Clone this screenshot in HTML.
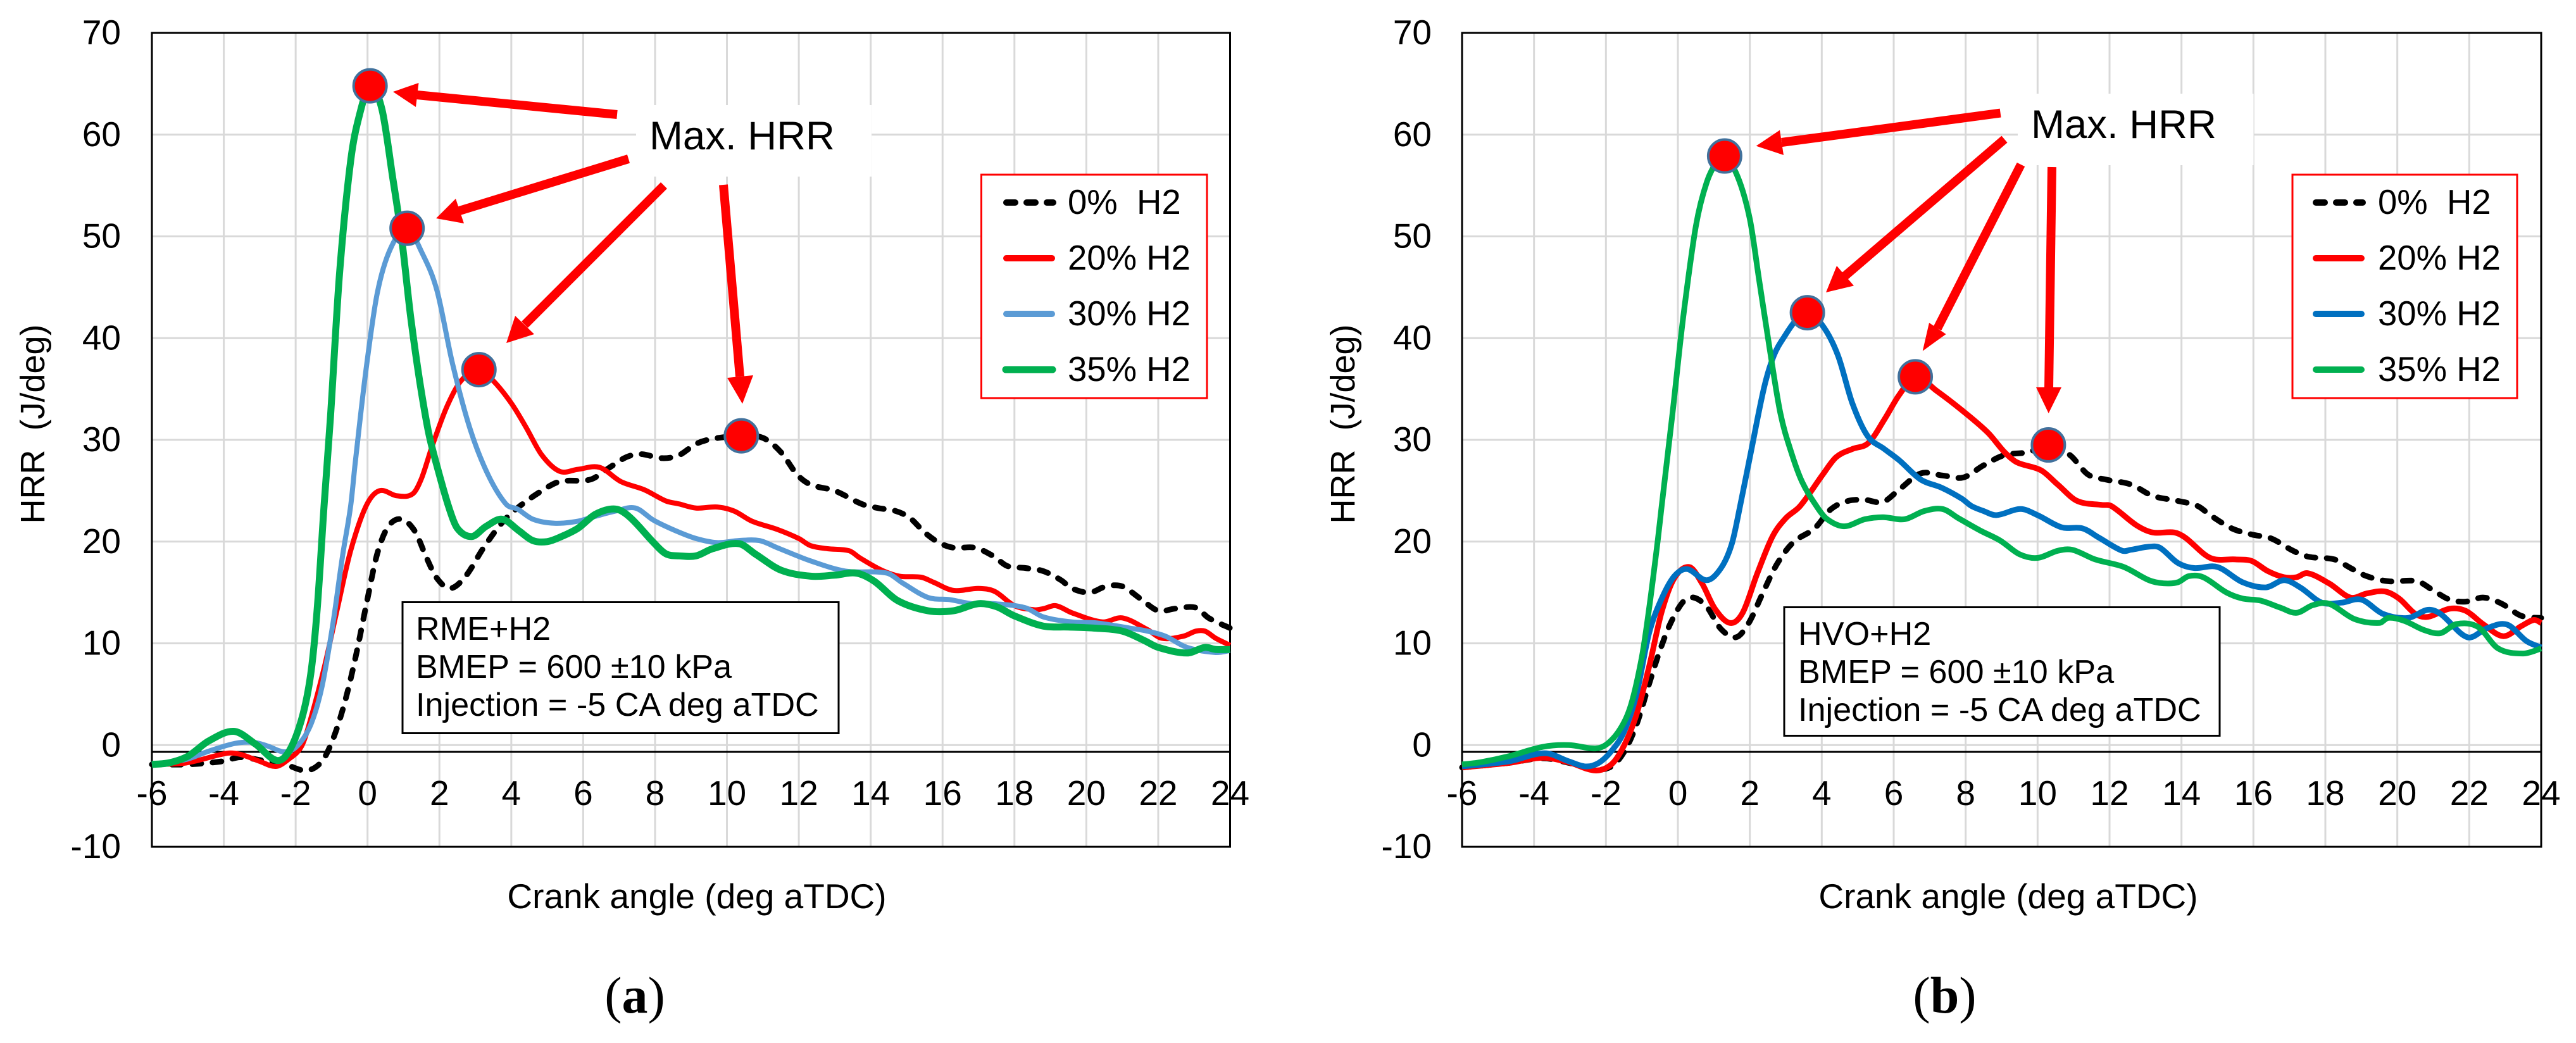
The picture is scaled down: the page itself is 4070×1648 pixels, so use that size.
<!DOCTYPE html>
<html lang="en">
<head>
<meta charset="utf-8">
<title>HRR vs crank angle</title>
<style>
html,body{margin:0;padding:0;background:#fff}
svg{display:block}
text{font-family:"Liberation Sans",sans-serif;fill:#000;white-space:pre}
.cap{font-family:"Liberation Serif",serif;font-size:82px}
</style>
</head>
<body>
<svg id="figure" xmlns="http://www.w3.org/2000/svg" width="4070" height="1648" viewBox="0 0 4070 1648" xml:space="preserve">
<rect x="0" y="0" width="4070" height="1648" fill="#fff"/>

<g id="panel-a">
  <g id="a-grid"></g>
  <rect x="1005" y="166" width="372" height="113" fill="#fff"/>
  <line x1="240" y1="1188" x2="1943.5" y2="1188" stroke="#000" stroke-width="3"/>
  <g id="a-ticks"></g>
  <rect x="240" y="52" width="1703.5" height="1286" fill="none" stroke="#000" stroke-width="3"/>
  <g id="a-series"></g>
  <g id="a-markers"></g>
  <text transform="translate(70 670) rotate(-90)" text-anchor="middle" font-size="54">HRR  (J/deg)</text>
  <text x="1101" y="1435" text-anchor="middle" font-size="55">Crank angle (deg aTDC)</text>
  <text x="1026" y="236" font-size="63.5">Max. HRR</text>
  <g fill="#f00" stroke="none">
    <g><line x1="975" y1="181" x2="659" y2="150" stroke="#f00" stroke-width="14"/><polygon points="621,145 661.5,131 657,169"/></g>
    <g><line x1="993" y1="251" x2="726" y2="333" stroke="#f00" stroke-width="14"/><polygon points="689,345 720,314 733,353"/></g>
    <g><line x1="1049" y1="293" x2="829" y2="513" stroke="#f00" stroke-width="14"/><polygon points="800,542 814,499 844,528"/></g>
    <g><line x1="1143" y1="292" x2="1169" y2="595" stroke="#f00" stroke-width="14"/><polygon points="1173,638 1149,597 1190,593"/></g>
  </g>
  <g>
    <rect x="1550.5" y="276" width="356.5" height="353" fill="#fff" stroke="#f00" stroke-width="3"/>
    <line x1="1590" y1="320" x2="1664" y2="320" stroke="#000" stroke-width="10" stroke-linecap="round" stroke-dasharray="14 18"/>
    <text x="1687" y="338" font-size="54.5">0%  H2</text>
    <line x1="1590" y1="408" x2="1662" y2="408" stroke="#f00" stroke-width="10" stroke-linecap="round"/>
    <text x="1687" y="426" font-size="54.5">20% H2</text>
    <line x1="1590" y1="496" x2="1662" y2="496" stroke="#5B9BD5" stroke-width="10" stroke-linecap="round"/>
    <text x="1687" y="514" font-size="54.5">30% H2</text>
    <line x1="1589" y1="584" x2="1663" y2="584" stroke="#00B050" stroke-width="11" stroke-linecap="round"/>
    <text x="1687" y="602" font-size="54.5">35% H2</text>
  </g>
  <g>
    <rect x="636" y="951.5" width="689" height="207" fill="#fff" stroke="#000" stroke-width="3"/>
    <text x="657" y="1011" font-size="52.2">RME+H2</text>
    <text x="657" y="1071" font-size="52.2">BMEP = 600 ±10 kPa</text>
    <text x="657" y="1131" font-size="52.2">Injection = -5 CA deg aTDC</text>
  </g>
  <text class="cap" x="1003" y="1600" text-anchor="middle">(<tspan font-weight="bold">a</tspan>)</text>
</g>

<g id="panel-b">
  <g id="b-grid"></g>
  <rect x="3188" y="148" width="372.5" height="113" fill="#fff"/>
  <line x1="2310" y1="1188" x2="4015" y2="1188" stroke="#000" stroke-width="3"/>
  <g id="b-ticks"></g>
  <rect x="2310" y="52" width="1705" height="1286" fill="none" stroke="#000" stroke-width="3"/>
  <g id="b-series"></g>
  <g id="b-markers"></g>
  <text transform="translate(2140 670) rotate(-90)" text-anchor="middle" font-size="54">HRR  (J/deg)</text>
  <text x="3173" y="1435" text-anchor="middle" font-size="55">Crank angle (deg aTDC)</text>
  <text x="3209" y="218" font-size="63.5">Max. HRR</text>
  <g fill="#f00" stroke="none">
    <g><line x1="3160.6" y1="178.6" x2="2815" y2="225" stroke="#f00" stroke-width="14"/><polygon points="2774.6,230.6 2812,205.6 2818,245"/></g>
    <g><line x1="3167" y1="220" x2="2915" y2="436" stroke="#f00" stroke-width="14"/><polygon points="2885,462 2902,420 2929,451.5"/></g>
    <g><line x1="3193" y1="260" x2="3061" y2="519" stroke="#f00" stroke-width="14"/><polygon points="3037.7,554.6 3048,510 3074.6,528"/></g>
    <g><line x1="3242" y1="264" x2="3237" y2="613" stroke="#f00" stroke-width="14"/><polygon points="3236.7,653 3217,612 3257,612"/></g>
  </g>
  <g>
    <rect x="3622" y="276" width="355" height="353" fill="#fff" stroke="#f00" stroke-width="3"/>
    <line x1="3659" y1="320" x2="3733" y2="320" stroke="#000" stroke-width="10" stroke-linecap="round" stroke-dasharray="14 18"/>
    <text x="3757" y="338" font-size="54.5">0%  H2</text>
    <line x1="3659" y1="408" x2="3731" y2="408" stroke="#f00" stroke-width="10" stroke-linecap="round"/>
    <text x="3757" y="426" font-size="54.5">20% H2</text>
    <line x1="3659" y1="496" x2="3731" y2="496" stroke="#0070C0" stroke-width="10" stroke-linecap="round"/>
    <text x="3757" y="514" font-size="54.5">30% H2</text>
    <line x1="3659" y1="584" x2="3731" y2="584" stroke="#00B050" stroke-width="10" stroke-linecap="round"/>
    <text x="3757" y="602" font-size="54.5">35% H2</text>
  </g>
  <g>
    <rect x="2819" y="959.5" width="688" height="203" fill="#fff" stroke="#000" stroke-width="3"/>
    <text x="2841" y="1019" font-size="52.2">HVO+H2</text>
    <text x="2841" y="1079" font-size="52.2">BMEP = 600 ±10 kPa</text>
    <text x="2841" y="1139" font-size="52.2">Injection = -5 CA deg aTDC</text>
  </g>
  <text class="cap" x="3072.5" y="1600" text-anchor="middle">(<tspan font-weight="bold">b</tspan>)</text>
</g>
</svg>

<script>
// Tick labels
var xTicks = [-6,-4,-2,0,2,4,6,8,10,12,14,16,18,20,22,24];
var yTicks = [-10,0,10,20,30,40,50,60,70];

// Panel (a) RME + H2: crank angle (deg) and HRR (J/deg) per series
var aBlackX = [-6,-5,-4.05,-3.55,-2.95,-2.3,-1.7,-1.27,-0.96,-0.65,-0.35,-0.04,0.27,0.58,0.95,1.32,1.63,1.93,2.3,2.73,3.23,3.73,4.17,4.85,5.35,6.2,6.7,7.2,7.6,8.2,8.67,9.14,9.6,10.4,11,11.5,11.95,12.33,13,13.75,14.2,14.7,15.1,15.5,15.9,16.3,16.9,17.4,17.8,18.3,18.8,19.3,19.6,20.1,20.55,21,21.5,22,22.45,23.05,23.4,24];
var aBlackY = [-1.9,-1.9,-1.6,-1.2,-1.5,-1.9,-2.5,-1.6,0.6,4,8.35,13.7,18.8,21.5,22.2,21,18.5,16.4,15.4,16.6,19.4,21.8,23.3,25,25.9,26.1,27.2,28.3,28.6,28.2,28.5,29.6,30.1,30.4,30.2,28.8,26.6,25.6,25,23.7,23.3,23,22.3,20.9,19.9,19.4,19.4,18.6,17.6,17.4,17.1,16.2,15.4,15,15.6,15.6,14.4,13.2,13.4,13.5,12.5,11.5];

var aRedX = [-6,-5.04,-3.9,-3.55,-3,-2.55,-2.2,-1.83,-1.58,-1.2,-0.84,-0.47,-0.04,0.33,0.82,1.26,1.5,1.8,2.2,2.6,3.1,3.5,4,4.4,4.85,5.35,5.85,6.45,7.05,7.7,8.3,8.67,9.14,9.73,10.2,10.7,11.4,12,12.33,12.8,13.4,13.7,14.3,14.8,15.4,15.75,16.3,17,17.45,18,18.55,18.8,19.15,19.6,20.45,21,21.7,22.1,22.7,23.05,23.3,23.6,24];
var aRedY = [-1.9,-1.75,-0.8,-0.9,-1.6,-2.1,-1.4,-0.07,2.6,7.7,13.4,19.1,23.5,25,24.5,24.7,26.2,29.4,33.2,35.8,36.9,35.8,33.6,31.3,28.5,26.9,27.1,27.3,25.9,25.1,24,23.7,23.3,23.4,23,22,21.2,20.3,19.6,19.3,19.1,18.4,17.2,16.6,16.5,16,15.2,15.4,15.1,13.7,13.3,13.4,13.7,13,12.1,12.5,11.35,10.5,10.7,11.2,11.2,10.5,9.8];

var aBlueX = [-6,-5.04,-4.42,-3.68,-3.18,-2.8,-2.3,-1.95,-1.58,-1.27,-0.96,-0.7,-0.47,-0.35,-0.05,0.27,0.64,1.1,1.5,1.93,2.37,2.86,3.35,3.85,4.17,4.6,5.2,5.85,6.35,6.9,7.45,7.96,8.55,9.14,9.73,10.33,10.9,11.4,12.33,13.3,14.45,14.9,15.6,16.2,16.8,17.4,18.3,18.8,19.6,20.3,21.2,21.7,22.2,22.8,23.6,24];
var aBlueY = [-1.9,-1.4,-0.6,0.17,0.27,-0.07,-0.67,-0.07,2,5.7,12,18.5,23.5,27.5,36.7,44.4,48.8,50.8,48.5,44.7,37.4,31,26.6,23.7,23.2,22.2,21.8,22,22.5,23,23.3,22.1,21.1,20.3,19.9,20.1,20.1,19.4,18.1,17.1,16.9,15.9,14.5,14.3,13.9,13.9,13.5,12.6,12.1,12,11.5,11.2,10.7,9.6,9.1,9.3];

var aGreenX = [-6,-5.53,-5,-4.42,-3.72,-3.12,-2.54,-2.2,-1.83,-1.58,-1.4,-1.21,-1.03,-0.78,-0.47,-0.22,0.07,0.4,0.7,0.95,1.2,1.45,1.7,1.95,2.26,2.5,2.9,3.3,3.75,4.2,4.6,5,5.4,5.85,6.35,6.9,7.3,7.96,8.3,8.67,9.14,9.6,10.33,10.8,11.5,12.33,13,13.6,14.1,14.75,15.6,16.3,17,17.5,18,18.8,19.5,20.2,21,21.6,22,22.8,23.3,23.6,24];
var aGreenY = [-1.9,-1.75,-1.1,0.4,1.35,0.1,-1.5,-0.7,2.6,7,13.4,23.5,32.3,46.3,57.4,62,64.8,62.5,55.8,49.8,42.1,35.8,30.7,27.2,23.4,21.3,20.5,21.5,22.2,21.1,20.1,20,20.5,21.3,22.7,23.2,22.4,19.9,18.8,18.6,18.6,19.3,19.8,18.75,17.2,16.6,16.7,16.9,16.1,14.2,13.2,13.2,13.9,13.6,12.7,11.7,11.6,11.5,11.2,10.3,9.6,9.05,9.6,9.4,9.4];

// Panel (b) HVO + H2: crank angle (deg) and HRR (J/deg) per series
var bBlackX = [-6,-4.7,-3.75,-3.03,-2.3,-1.85,-1.5,-1.15,-0.8,-0.5,-0.2,0.15,0.44,0.8,1.2,1.62,1.97,2.33,2.74,3.2,3.8,4.26,4.73,5.2,5.7,6.15,6.75,7.36,7.93,8.5,9.08,9.76,10.3,10.9,11.4,11.9,12.6,13.2,13.9,14.45,14.8,15.4,15.95,16.5,17.1,17.55,18.25,18.7,19.15,19.75,20.55,21,21.45,21.9,22.4,22.9,23.45,24];
var bBlackY = [-2.2,-1.75,-1.3,-1.75,-2.4,-2.1,-0.7,2,6,9.3,12,14.1,14.5,13.6,11.4,10.6,12,14.7,17.7,19.9,21.3,23.2,24,24.1,23.9,25.1,26.7,26.5,26.3,27.5,28.5,28.8,29.5,28.5,26.6,26.1,25.6,24.5,24,23.5,22.6,21.3,20.7,20.3,19.1,18.5,18.25,17.4,16.6,16.1,16.1,15.2,14.3,14.1,14.5,13.9,12.7,12.5];

var bRedX = [-6,-4.7,-3.75,-3.03,-2.3,-1.85,-1.5,-1.15,-0.8,-0.45,-0.1,0.32,0.67,1.03,1.45,1.8,2.2,2.63,3,3.4,4.03,4.4,4.85,5.3,5.74,6.15,6.6,7.2,7.9,8.62,9.08,9.42,10.1,10.56,11.1,11.8,12.05,12.75,13.2,13.8,14.1,14.8,15.5,15.95,16.4,16.85,17.2,17.5,18.1,18.7,19.15,19.65,20.05,20.5,20.85,21.45,21.9,22.4,22.95,23.45,23.8,24];
var bRedY = [-2.2,-1.75,-1.25,-1.7,-2.5,-1.9,-0.07,3,7.7,13.1,16.4,17.5,15.9,13.4,12,13,16.8,20.5,22.3,23.5,26.6,28.3,29.1,29.7,32,34.4,36.2,34.8,32.9,30.7,28.8,27.8,27,25.6,24,23.6,23.5,21.6,20.9,20.9,20.4,18.4,18.25,18.1,17.1,16.5,16.5,16.9,15.9,14.5,14.9,15.1,14.4,12.9,12.6,13.4,13.2,11.85,10.7,11.7,12.3,12];

var bBlueX = [-6,-4.7,-3.7,-3.03,-2.56,-2.2,-1.85,-1.5,-1.15,-0.8,-0.45,-0.1,0.26,0.8,1.2,1.5,1.73,2.03,2.4,2.67,2.97,3.27,3.6,4.03,4.45,4.85,5.27,5.74,6.15,6.75,7.33,7.9,8.16,8.5,8.85,9.53,10,10.67,11.25,11.7,12.35,12.6,13.1,13.4,13.9,14.35,15,15.7,16.35,16.85,17.3,17.9,18.45,19,19.6,20.3,20.85,21.2,21.95,22.5,23.05,23.6,24];
var bBlueY = [-2.1,-1.6,-0.8,-1.6,-2.1,-1.75,-0.6,1.3,5,11,14.4,16.6,17.3,16.2,17.4,19.8,23.5,28.8,35.2,38.3,40.2,41.7,42.5,41.2,38.3,33.6,30.4,29.1,28,26.1,25.3,24.2,23.5,23,22.6,23.2,22.6,21.4,21.3,20.4,19.1,19.2,19.5,19.4,17.9,17.4,17.5,16,15.5,16.2,15.5,14,14,14.3,12.9,12.5,13.3,12.9,10.6,11.5,11.85,10.2,9.6];

var bGreenX = [-6,-5.5,-4.7,-3.75,-3.03,-2.3,-1.97,-1.6,-1.3,-1,-0.8,-0.56,-0.45,-0.15,0.15,0.5,0.8,1.1,1.3,1.67,2,2.26,2.55,2.85,3.15,3.45,3.87,4.15,4.62,5.2,5.7,6.3,6.85,7.36,7.8,8.4,8.96,9.5,10,10.56,10.96,11.6,12.4,13.1,13.5,13.9,14.2,14.6,15.25,15.7,16.2,16.75,17.2,17.65,18.1,18.8,19.5,19.75,20.2,20.75,21.2,21.65,22.25,22.8,23.5,24];
var bGreenY = [-1.9,-1.7,-1.1,-0.17,0,-0.33,0.1,1.6,4,8.7,13.4,20.1,23.5,32.6,42.1,51,55.3,57.4,57.9,55.8,51.7,45.7,39,32.6,28.8,25.9,23.4,22.2,21.5,22.2,22.4,22.2,23,23.2,22.3,21.1,20.1,18.75,18.4,19.1,19.2,18.25,17.5,16.2,15.9,16,16.6,16.5,15,14.4,14.2,13.5,13,13.75,13.9,12.4,12,12.5,12.2,11.3,11,11.9,11.6,9.5,9,9.5];

var SVGNS = 'http://www.w3.org/2000/svg';
var plotTop = 52, plotBottom = 1338;

function yScale(v) {
  return plotBottom - (v + 10) / 80 * (plotBottom - plotTop);
}
function xScaleFor(left, right) {
  return function (v) { return left + (v + 6) / 30 * (right - left); };
}
function smoothPath(xs, ys, sx) {
  var px = xs.map(sx), py = ys.map(yScale), d = 'M' + px[0].toFixed(1) + ' ' + py[0].toFixed(1);
  for (var i = 0; i < px.length - 1; i++) {
    var h = px[i + 1] - px[i];
    var hPrev = i > 0 ? px[i] - px[i - 1] : h;
    var hNext = i < px.length - 2 ? px[i + 2] - px[i + 1] : h;
    var x0 = i > 0 ? px[i - 1] : px[i], y0 = i > 0 ? py[i - 1] : py[i];
    var x3 = i < px.length - 2 ? px[i + 2] : px[i + 1], y3 = i < px.length - 2 ? py[i + 2] : py[i + 1];
    var k1 = h / (hPrev + h) / 3, k2 = h / (h + hNext) / 3;
    var c1x = px[i] + (px[i + 1] - x0) * k1, c1y = py[i] + (py[i + 1] - y0) * k1;
    var c2x = px[i + 1] - (x3 - px[i]) * k2, c2y = py[i + 1] - (y3 - py[i]) * k2;
    d += 'C' + c1x.toFixed(1) + ' ' + c1y.toFixed(1) + ' ' + c2x.toFixed(1) + ' ' + c2y.toFixed(1) + ' ' + px[i + 1].toFixed(1) + ' ' + py[i + 1].toFixed(1);
  }
  return d;
}

function drawAxes(prefix, left, right, labelRight) {
  var sx = xScaleFor(left, right);
  var grid = document.getElementById(prefix + '-grid');
  var ticks = document.getElementById(prefix + '-ticks');
  xTicks.forEach(function (t) {
    if (t !== -6 && t !== 24) {
      var v = document.createElementNS(SVGNS, 'line');
      
      
      v.setAttribute('x1', sx(t));
      v.setAttribute('x2', sx(t));
      v.setAttribute('y1', plotTop);
      v.setAttribute('y2', plotBottom);
      v.setAttribute('stroke', '#D9D9D9');
      v.setAttribute('stroke-width', '3');
      grid.appendChild(v);
    }
    var tx = document.createElementNS(SVGNS, 'text');
    
    
    tx.setAttribute('x', sx(t));
    tx.setAttribute('y', 1272);
    tx.setAttribute('text-anchor', 'middle');
    tx.setAttribute('font-size', '55');
    tx.textContent = String(t);
    ticks.appendChild(tx);
  });
  yTicks.forEach(function (t) {
    if (t !== -10 && t !== 70) {
      var h = document.createElementNS(SVGNS, 'line');
      
      
      h.setAttribute('x1', left);
      h.setAttribute('x2', right);
      h.setAttribute('y1', yScale(t));
      h.setAttribute('y2', yScale(t));
      h.setAttribute('stroke', '#D9D9D9');
      h.setAttribute('stroke-width', '3');
      grid.appendChild(h);
    }
    var ty = document.createElementNS(SVGNS, 'text');
    
    
    ty.setAttribute('x', labelRight);
    ty.setAttribute('y', yScale(t) + 18);
    ty.setAttribute('text-anchor', 'end');
    ty.setAttribute('font-size', '55');
    ty.textContent = String(t);
    ticks.appendChild(ty);
  });
}

function drawSeries(prefix, left, right, name, xs, ys, color, width, dash) {
  var sx = xScaleFor(left, right);
  var g = document.getElementById(prefix + '-series');
  var m = document.getElementById(prefix + '-markers');
  var p = document.createElementNS(SVGNS, 'path');
  
  
  p.setAttribute('d', smoothPath(xs, ys, sx));
  p.setAttribute('fill', 'none');
  p.setAttribute('stroke', color);
  p.setAttribute('stroke-width', width);
  p.setAttribute('stroke-linejoin', 'round');
  if (dash) {
    p.setAttribute('stroke-dasharray', dash);
    p.setAttribute('stroke-linecap', 'round');
  }
  g.appendChild(p);
  var best = 0;
  for (var i = 1; i < ys.length; i++) { if (ys[i] > ys[best]) best = i; }
  var c = document.createElementNS(SVGNS, 'circle');
  
  
  c.setAttribute('cx', sx(xs[best]));
  c.setAttribute('cy', yScale(ys[best]));
  c.setAttribute('r', '26');
  c.setAttribute('fill', '#FF0000');
  c.setAttribute('stroke', '#41719C');
  c.setAttribute('stroke-width', '4');
  m.appendChild(c);
}

drawAxes('a', 240, 1943.5, 191);
drawAxes('b', 2310, 4015, 2262);

drawSeries('a', 240, 1943.5, 'series-0-percent-h2', aBlackX, aBlackY, '#000000', 9, '14 18');
drawSeries('a', 240, 1943.5, 'series-20-percent-h2', aRedX, aRedY, '#FF0000', 8);
drawSeries('a', 240, 1943.5, 'series-30-percent-h2', aBlueX, aBlueY, '#5B9BD5', 8);
drawSeries('a', 240, 1943.5, 'series-35-percent-h2', aGreenX, aGreenY, '#00B050', 11);

drawSeries('b', 2310, 4015, 'series-0-percent-h2', bBlackX, bBlackY, '#000000', 9, '14 18');
drawSeries('b', 2310, 4015, 'series-20-percent-h2', bRedX, bRedY, '#FF0000', 9);
drawSeries('b', 2310, 4015, 'series-30-percent-h2', bBlueX, bBlueY, '#0070C0', 9);
drawSeries('b', 2310, 4015, 'series-35-percent-h2', bGreenX, bGreenY, '#00B050', 9);
</script>
</body>
</html>
